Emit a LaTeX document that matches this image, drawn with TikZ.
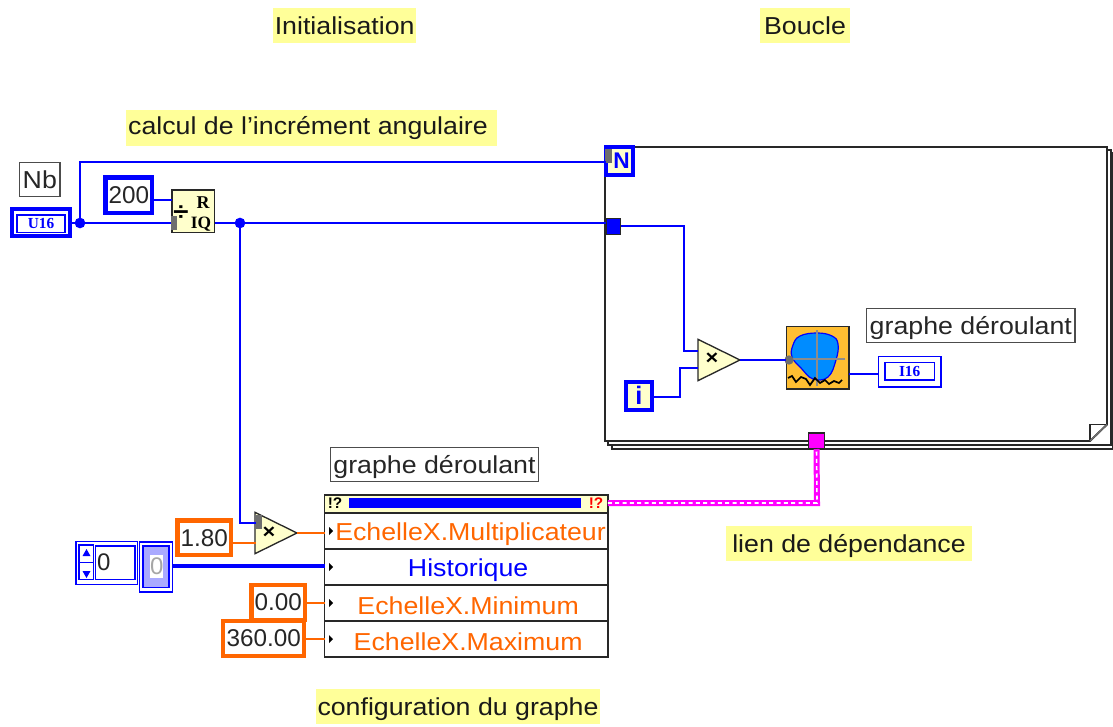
\documentclass[tikz,border=0pt]{standalone}
\usepackage{fontspec}
\setmainfont{Liberation Sans}[FakeStretch=1.09]
\newfontfamily\numf{Liberation Sans}
\newfontfamily\serifb{Liberation Serif}
\usetikzlibrary{shapes.geometric,calc}
\definecolor{lvblue}{RGB}{0,0,255}
\definecolor{lvorange}{RGB}{255,102,0}
\definecolor{lvpink}{RGB}{255,0,255}
\definecolor{lvyellow}{RGB}{255,255,204}
\definecolor{notey}{RGB}{255,255,153}
\definecolor{lvgrey}{RGB}{110,110,110}
\definecolor{frame}{RGB}{40,40,40}
\definecolor{iconbg}{RGB}{255,190,50}
\definecolor{iconblob}{RGB}{0,140,255}
\definecolor{lavender}{RGB}{170,170,255}
\newcommand{\lowr}[1]{\raisebox{-2pt}[\height][\depth]{#1}}
\tikzset{
 box/.style={rectangle,inner sep=0pt,outer sep=0pt,anchor=north west},
 note/.style={box,fill=notey,font=\fontsize{18.4pt}{20pt}\selectfont,text=black!90},
 lab/.style={box,draw=frame,line width=1.1pt,fill=white,font=\fontsize{18.4pt}{20pt}\selectfont,text=black!85},
 constblue/.style={box,draw=lvblue,line width=3.2pt,fill=white,font=\numf\fontsize{18.2pt}{20pt}\selectfont,text=black!85},
 constorange/.style={box,draw=lvorange,line width=3.2pt,fill=white,font=\numf\fontsize{18.2pt}{20pt}\selectfont,text=black!85},
 wire/.style={draw=lvblue,line width=1.3pt},
 owire/.style={draw=lvorange,line width=1.3pt},
 thick wire/.style={draw=lvblue,line width=3pt},
 dot/.style={circle,fill=lvblue,inner sep=0pt,minimum size=8pt,outer sep=0pt},
 func/.style={isosceles triangle,isosceles triangle stretches,shape border rotate=0,draw=frame,line width=1pt,fill=lvyellow,inner sep=0pt,outer sep=0pt,minimum width=31pt,minimum height=31.5pt,anchor=apex},
 row/.style={box,draw=frame,line width=1.4pt,fill=white,minimum width=212.5pt,minimum height=27pt,font=\fontsize{18.4pt}{20pt}\selectfont},
 term/.style={fill=lvgrey,draw=none,rectangle,inner sep=0pt,outer sep=0pt},
}
\begin{document}
\begin{tikzpicture}[x=0.75pt,y=-0.75pt]
\useasboundingbox (0,0) rectangle (1113,727);
\fill[white] (0,0) rectangle (1113,727);
% yellow notes
\node[note,minimum width=107.5pt,minimum height=26pt] (n1) at (273,8) {Initialisation};
\node[note,minimum width=67.5pt,minimum height=26pt] (n2) at (760,8) {Boucle};
\node[note,minimum width=278pt,minimum height=27pt] (n3) at (126,110) {calcul de l'incrément angulaire\kern5pt};
\node[note,minimum width=184.5pt,minimum height=26pt] (n4) at (726,526) {\lowr{lien de dépendance}};
\node[note,minimum width=213pt,minimum height=26pt] (n5) at (316,689) {\lowr{configuration du graphe}};
% loop frame: stacked pages, main page with a curled corner
\filldraw[fill=white,draw=frame,line width=1.2pt] (612,300) -- (612,449) -- (1112.3,449) -- (1112.3,153) -- (1100,153);
\filldraw[fill=white,draw=frame,line width=1.2pt] (608,300) -- (608,445) -- (1111,445) -- (1111,150) -- (1100,150);
\filldraw[fill=white,draw=frame,line width=1.4pt] (605,147) -- (1107,147) -- (1107,424.5) -- (1090,441) -- (605,441) -- cycle;
\coordinate (foldA) at (1090,441); \coordinate (foldB) at (1107,424.5);
\draw[frame,line width=1.2pt] (foldA) -- (1090,424.5) -- (foldB);
\draw[black!55,line width=0.9pt] (foldA) -- (foldB);
% top-left
\node[lab,minimum width=30.5pt,minimum height=25.5pt,draw=black!70] (nb) at (19.5,162.5) {Nb};
\node[box,draw=lvblue,line width=3pt,fill=white,minimum width=44pt,minimum height=20pt] (u16) at (11.5,209.5) {};
\node[box,draw=lvblue,line width=1pt,minimum width=36pt,minimum height=13pt,font=\serifb\bfseries\fontsize{11.5pt}{12pt}\selectfont,text=lvblue] (u16i) at (17,215) {U16};
\node[constblue,minimum width=35pt,minimum height=26.5pt] (c200) at (105.5,177.5) {200};
\node[box,draw=frame,line width=1.1pt,fill=lvyellow,minimum width=32pt,minimum height=32pt] (div) at (172,190) {};
\node[inner sep=0pt,font=\bfseries\fontsize{19pt}{19pt}\selectfont] (divs) at (181,213) {÷};
\node[inner sep=0pt,font=\serifb\bfseries\fontsize{13.5pt}{13pt}\selectfont] (divr) at (203,203) {R};
\node[inner sep=0pt,font=\serifb\bfseries\fontsize{13pt}{12pt}\selectfont] (diviq) at (201,224) {IQ};
\coordinate (jA) at (80,223);
\coordinate (jB) at (240,223);
\coordinate (divIn) at (172,223);
\coordinate (divOut) at (215,223);
\coordinate (div200) at (172,200);
% loop structures
\node[box,draw=lvblue,line width=3pt,fill=lvyellow,minimum width=20.5pt,minimum height=20.5pt,font=\numf\bfseries\fontsize{17pt}{17pt}\selectfont,text=lvblue] (nt) at (606,147.5) {\,N};
\node[box,draw=frame,line width=1.2pt,fill=lvblue,minimum width=11pt,minimum height=12pt] (tun) at (606,218.5) {};
\node[term,minimum width=5pt,minimum height=10pt] (ntt) at (608.5,156) {};
\node[box,draw=frame,line width=1pt,fill=lvpink,minimum width=12pt,minimum height=12pt] (stop) at (808.5,433) {};
\node[box,draw=lvblue,line width=3pt,fill=lvyellow,minimum width=20pt,minimum height=21pt,font=\numf\bfseries\fontsize{19pt}{19pt}\selectfont,text=lvblue] (it) at (625.5,381.5) {i};
\node[func] (mul) at (740,360) {};
\node[inner sep=0pt,font=\bfseries\fontsize{15pt}{15pt}\selectfont] (mulx) at (712,359) {×};
\coordinate (mulA) at (698,351);
\coordinate (mulB) at (698,368);
% icon
\node[box,draw=frame,line width=1.2pt,fill=iconbg,minimum width=47pt,minimum height=47pt] (icon) at (786.5,326.5) {};
\filldraw[fill=iconblob,draw=lvblue,line width=0.9pt,smooth cycle,tension=0.7] plot coordinates {(793,345) (800,336) (817,333) (832,336) (838,344) (836,360) (828,377) (813,379) (801,368) (792,357)};
\draw[black!45,line width=1pt] (817,330) -- (817,386) (792,359) -- (845,359);
\draw[black,line width=1.3pt] (788,378) -- (792,376) -- (796,382) -- (801,377) -- (806,379) -- (810,385) -- (815,378) -- (820,383) -- (825,380) -- (829,384) -- (834,381) -- (839,383) -- (842,380);
\node[term,circle,minimum size=7pt] (ict) at (789,360) {};
\coordinate (iconIn) at (786,360);
\coordinate (iconOut) at (849,374);
\node[box,draw=lvblue,line width=1.2pt,fill=white,minimum width=47pt,minimum height=23pt] (i16) at (878.5,356.5) {};
\node[box,draw=lvblue,line width=1pt,minimum width=37pt,minimum height=13pt,font=\serifb\bfseries\fontsize{11.5pt}{12pt}\selectfont,text=lvblue] (i16i) at (885,362.5) {I16};
\coordinate (i16In) at (878,374);
\node[lab,minimum width=156.5pt,minimum height=25.5pt,draw=black!70] (g1) at (866.5,308.5) {\lowr{graphe déroulant}};
\node[lab,minimum width=156pt,minimum height=25.5pt,draw=black!70] (g2) at (330.5,447.5) {\lowr{graphe déroulant}};
% wires in loop
\coordinate (b1) at (684,226);
\coordinate (b2) at (680,397);
\coordinate (b3) at (680,368);
\draw[wire] (tun.east |- b1) -- (b1) |- (mulA);
\draw[wire] (it.east |- b2) -- (b2) -- (b3) -- (mulB);
\draw[wire] (mul.apex) -- (iconIn);
\draw[wire] (iconOut) -- (i16In);
% outer wires
\draw[wire] (u16.east |- jA) -- (jA) -- (divIn);
\coordinate (nc) at (80,162);
\draw[wire] (jA) -- (nc) -- (nt.west |- nc);
\draw[wire] (c200.east |- div200) -- (div200);
\draw[wire] (divOut) -- (jB) -- (tun.west |- jB);
\node[dot] (dA) at (jA) {};
\node[dot] (dB) at (jB) {};
\node[term,minimum width=4pt,minimum height=10pt] (dvt) at (174,223) {};
% property node
\node[box,draw=frame,line width=1.4pt,fill=lvyellow,minimum width=212.5pt,minimum height=13.5pt] (hdr) at (324.5,495) {};
\node[box,fill=lvblue,minimum width=174pt,minimum height=7.5pt] (bar) at (349,498) {};
\node[inner sep=0pt,font=\numf\bfseries\fontsize{11.5pt}{11pt}\selectfont] (e1) at (335,503.5) {!?};
\node[inner sep=0pt,font=\numf\bfseries\fontsize{11.5pt}{11pt}\selectfont,text=red] (e2) at (596,503.5) {!?};
\node[row,text=lvorange] (r1) at (324.5,513) {\hspace{6.5pt}\lowr{EchelleX.Multiplicateur}};
\node[row,text=lvblue] (r2) at (324.5,549) {\hspace{3pt}\lowr{Historique}};
\node[row,text=lvorange] (r3) at (324.5,585) {\hspace{3pt}\lowr{EchelleX.Minimum}};
\node[row,text=lvorange] (r4) at (324.5,621) {\hspace{3pt}\lowr{EchelleX.Maximum}};
\foreach \yy in {531,567,603,639}{\fill[black] (329,\yy-4) -- (333,\yy) -- (329,\yy+4) -- cycle;}
% lower-left
\node[constorange,minimum width=40pt,minimum height=26pt] (c18) at (177.5,520.5) {1.80};
\node[constorange,minimum width=40pt,minimum height=26pt] (c00) at (251.5,585) {0.00};
\node[constorange,minimum width=61pt,minimum height=26pt] (c36) at (223,621) {360.00};
\node[func] (mu2) at (297,533) {};
\node[inner sep=0pt,font=\bfseries\fontsize{15pt}{15pt}\selectfont] (mu2x) at (269,533) {×};
\node[term,minimum width=5pt,minimum height=11pt] (mu2t) at (258.5,522) {};
\coordinate (m2A) at (256,523);
\coordinate (m2B) at (256,543);
\draw[wire] (jB) |- (m2A);
\draw[owire] (c18.east |- m2B) -- (m2B);
\draw[owire] (mu2.apex) -- (r1.west |- mu2.apex);
\draw[owire] (c00.east |- 0,603) -- (r3.west |- 0,603);
\draw[owire] (c36.east |- 0,639) -- (r4.west |- 0,639);
\node[box,draw=lvblue,line width=1pt,fill=white,minimum width=46pt,minimum height=32pt] (spin) at (76,541.5) {};
\node[box,draw=lvblue,line width=1pt,fill=white,minimum width=29.5pt,minimum height=25pt,font=\numf\fontsize{18pt}{20pt}\selectfont,text=black!85] (spinv) at (95.5,546) {0\kern17pt};
\node[box,draw=lvblue,line width=1pt,fill=white,minimum width=11pt,minimum height=26pt] (spinb) at (79,545) {};
\draw[lvblue,line width=1pt] (spinb.west) -- (spinb.east);
\fill[lvblue] (86.5,549) -- (90.5,556) -- (82.5,556) -- cycle (86.5,578) -- (90.5,571) -- (82.5,571) -- cycle;
\node[box,draw=lvblue,line width=1pt,fill=white,minimum width=24.5pt,minimum height=37.5pt] (arr) at (139.5,542) {};
\node[box,draw=lvblue,line width=1pt,fill=lavender,minimum width=19.5pt,minimum height=31pt] (arri) at (143,546) {};
\node[box,fill=white,minimum width=10pt,minimum height=17pt,font=\numf\fontsize{18pt}{20pt}\selectfont,text=black!35] (arrv) at (150,555) {0};
\draw[thick wire] (arr.east |- r2.west) ++(0,-1) -- (r2.west |- 0,566);
% pink wire
\coordinate (pk) at (817,503);
\draw[lvpink,line width=4.5pt] (hdr.east |- pk) -- (pk) -- (stop.south);
\draw[white,line width=1.2pt,dash pattern=on 3pt off 2.5pt] (hdr.east |- pk) -- (pk) -- (stop.south);
\end{tikzpicture}
\end{document}
